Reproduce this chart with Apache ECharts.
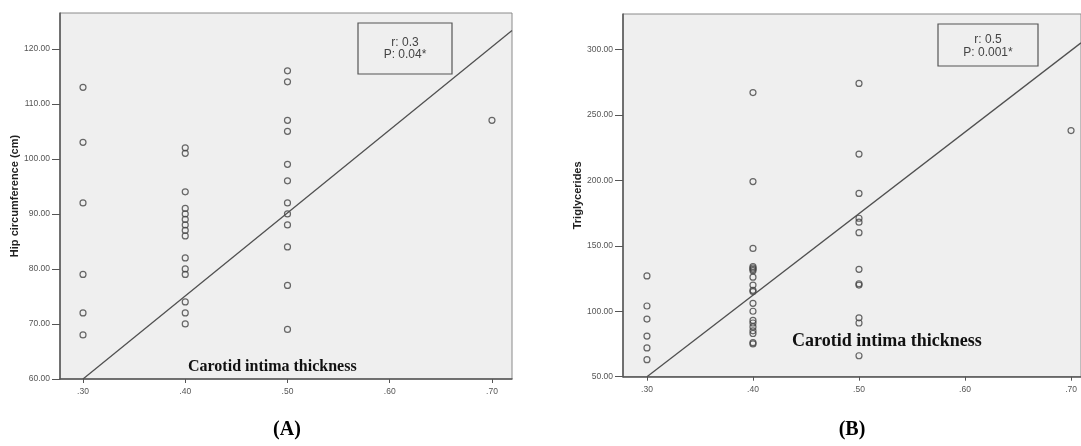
<!DOCTYPE html>
<html>
<head>
<meta charset="utf-8">
<script src="https://cdn.jsdelivr.net/npm/echarts@6/dist/echarts.min.js"></script>
<style>
html,body{margin:0;padding:0;background:#fff;}
#c{width:1081px;height:446px;}
</style>
</head>
<body>
<div id="c"></div>
<script>
// ---- data ----
const xTicks = [0.30, 0.40, 0.50, 0.60, 0.70];
const hipTicks = [60, 70, 80, 90, 100, 110, 120];
const tgTicks = [50, 100, 150, 200, 250, 300];

const hipAt30 = [113, 103, 92, 79, 72, 68];
const hipAt40 = [102, 101, 94, 91, 90, 89, 88, 87, 86, 82, 80, 79, 74, 72, 70];
const hipAt50 = [116, 114, 107, 105, 99, 96, 92, 90, 88, 84, 77, 69];
const hipAt70 = [107];

const tgAt30 = [127, 104, 94, 81, 72, 63];
const tgAt40 = [267, 199, 148, 134, 133, 132, 131, 126, 120, 116, 115, 106, 100, 93, 91, 88, 85, 83, 76, 75];
const tgAt50 = [274, 220, 190, 171, 168, 160, 132, 121, 120, 95, 91, 66];
const tgAt70 = [238];

const hipFitX = [0.30, 0.7196];
const hipFitY = [60, 123.3];
const tgFitX = [0.30, 0.7094];
const tgFitY = [50, 305];

const statsA = ['r: 0.3', 'P: 0.04*'];
const statsB = ['r: 0.5', 'P: 0.001*'];
const xTitle = 'Carotid intima thickness';
const yTitleA = 'Hip circumference (cm)';
const yTitleB = 'Triglycerides';
const panelA = '(A)';
const panelB = '(B)';

// ---- build ----
function pts(x, ys) { return ys.map(y => [x, y]); }
const hipPts = [].concat(pts(0.30, hipAt30), pts(0.40, hipAt40), pts(0.50, hipAt50), pts(0.70, hipAt70));
const tgPts = [].concat(pts(0.30, tgAt30), pts(0.40, tgAt40), pts(0.50, tgAt50), pts(0.70, tgAt70));
const hipFit = hipFitX.map((x, i) => [x, hipFitY[i]]);
const tgFit = tgFitX.map((x, i) => [x, tgFitY[i]]);

const axisCol = '#555';
const labelStyle = { color: '#555', fontSize: 8.5, fontFamily: 'Liberation Sans, Arial' };

function xAxis(idx, min, max) {
  return {
    type: 'value', gridIndex: idx, min: min, max: max,
    axisLine: { show: true, onZero: false, lineStyle: { color: axisCol, width: 1.5 } },
    axisTick: { show: true, length: 4, customValues: xTicks, lineStyle: { color: axisCol } },
    axisLabel: Object.assign({ customValues: xTicks, margin: 8,
      formatter: v => '.' + Math.round(v * 100) }, labelStyle),
    splitLine: { show: false }
  };
}
function yAxis(idx, min, max, ticks, name, gap) {
  return {
    type: 'value', gridIndex: idx, min: min, max: max,
    name: name, nameLocation: 'middle', nameGap: gap, nameRotate: 90,
    nameTextStyle: { fontSize: 11, fontWeight: 'bold', color: '#222', fontFamily: 'Liberation Sans, Arial' },
    axisLine: { show: true, onZero: false, lineStyle: { color: axisCol, width: 1.5 } },
    axisTick: { show: true, length: 8, customValues: ticks, lineStyle: { color: axisCol } },
    axisLabel: Object.assign({ customValues: ticks, margin: 10,
      formatter: v => v.toFixed(2) }, labelStyle),
    splitLine: { show: false }
  };
}
const scatterStyle = {
  type: 'scatter', symbol: 'circle', symbolSize: 6,
  itemStyle: { color: 'rgba(0,0,0,0)', borderColor: '#444', borderWidth: 1.2 },
  emphasis: { disabled: true }, silent: true
};
const lineStyle = {
  type: 'line', symbol: 'none', silent: true,
  lineStyle: { color: '#505050', width: 1.3 }
};

const serifBold = { fontFamily: 'Liberation Serif, Times New Roman', fontWeight: 'bold', fill: '#111' };

const option = {
  animation: false,
  backgroundColor: '#fff',
  grid: [
    { left: 60, top: 13, width: 452, height: 366, show: true, backgroundColor: '#efefef', borderColor: '#8a8a8a', borderWidth: 1 },
    { left: 623, top: 14, width: 458, height: 362.7, show: true, backgroundColor: '#efefef', borderColor: '#8a8a8a', borderWidth: 1 }
  ],
  xAxis: [ xAxis(0, 0.2775, 0.7196), xAxis(1, 0.2774, 0.7094) ],
  yAxis: [ yAxis(0, 60, 126.5, hipTicks, yTitleA, 40), yAxis(1, 50, 327, tgTicks, yTitleB, 40) ],
  series: [
    Object.assign({ xAxisIndex: 0, yAxisIndex: 0, data: hipPts }, scatterStyle),
    Object.assign({ xAxisIndex: 0, yAxisIndex: 0, data: hipFit }, lineStyle),
    Object.assign({ xAxisIndex: 1, yAxisIndex: 1, data: tgPts }, scatterStyle),
    Object.assign({ xAxisIndex: 1, yAxisIndex: 1, data: tgFit }, lineStyle)
  ],
  graphic: [
    { type: 'rect', shape: { x: 358, y: 23, width: 94, height: 51 }, style: { fill: 'none', stroke: '#555', lineWidth: 1.2 }, z: 10 },
    { type: 'text', x: 405, y: 49, style: { text: statsA.join('\n'), align: 'center', verticalAlign: 'middle', fontSize: 12, lineHeight: 12, fontFamily: 'Liberation Sans, Arial', fill: '#444' }, z: 10 },
    { type: 'rect', shape: { x: 938, y: 24, width: 100, height: 42 }, style: { fill: 'none', stroke: '#555', lineWidth: 1.2 }, z: 10 },
    { type: 'text', x: 988, y: 46.5, style: { text: statsB.join('\n'), align: 'center', verticalAlign: 'middle', fontSize: 12, lineHeight: 13, fontFamily: 'Liberation Sans, Arial', fill: '#444' }, z: 10 },
    { type: 'text', x: 188, y: 367, style: Object.assign({ text: xTitle, fontSize: 16, verticalAlign: 'middle' }, serifBold), z: 10 },
    { type: 'text', x: 792, y: 341, style: Object.assign({ text: xTitle, fontSize: 18, verticalAlign: 'middle' }, serifBold), z: 10 },
    { type: 'text', x: 287, y: 430, style: Object.assign({ text: panelA, fontSize: 20, align: 'center', verticalAlign: 'middle' }, serifBold, { fill: '#000' }), z: 10 },
    { type: 'text', x: 852, y: 430, style: Object.assign({ text: panelB, fontSize: 20, align: 'center', verticalAlign: 'middle' }, serifBold, { fill: '#000' }), z: 10 }
  ]
};
const chart = echarts.init(document.getElementById('c'), null, { renderer: 'canvas' });
chart.setOption(option);
</script>
</body>
</html>
